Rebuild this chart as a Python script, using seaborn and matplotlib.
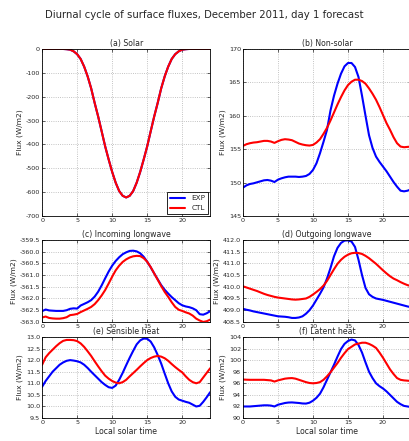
import matplotlib
matplotlib.use("Agg")
import matplotlib.pyplot as plt
import seaborn as sns
import numpy as np
import pandas as pd

# --- data (half-hourly, local solar time) ---
hours = list(np.arange(0, 24.5, 0.5))

solar_exp = [0, 0, 0, 0, 0, 0, 0, -1, -3, -10,
             -22, -42, -74, -115, -165, -226, -283, -345, -408, -463,
             -515, -560, -595, -615, -622, -615, -595, -560, -515, -463,
             -408, -345, -283, -226, -165, -115, -74, -42, -22, -10,
             -3, -1, 0, 0, 0, 0, 0, 0, 0]
solar_ctl = list(solar_exp)

nonsolar_exp = [149.25, 149.6, 149.8, 149.9, 150.05, 150.2, 150.35, 150.4, 150.3, 150.1,
                150.45, 150.65, 150.8, 150.9, 150.9, 150.9, 150.85, 150.9, 151.0, 151.3,
                151.9, 152.9, 154.4, 156.1, 157.9, 160.8, 163.0, 164.8, 166.3, 167.4,
                167.9, 167.9, 167.3, 165.8, 163.0, 160.0, 157.1, 155.2, 153.9, 153.1,
                152.4, 151.7, 150.9, 150.1, 149.4, 148.8, 148.7, 148.8, 149.0]
nonsolar_ctl = [155.5, 155.75, 155.9, 156.0, 156.05, 156.15, 156.25, 156.25, 156.15, 155.95,
                156.2, 156.4, 156.5, 156.45, 156.35, 156.1, 155.85, 155.7, 155.6, 155.55,
                155.65, 156.0, 156.5, 157.3, 158.2, 159.3, 160.5, 161.7, 162.8, 163.8,
                164.6, 165.1, 165.4, 165.4, 165.2, 164.8, 164.1, 163.3, 162.4, 161.3,
                160.1, 158.9, 157.9, 156.8, 155.9, 155.4, 155.3, 155.35, 155.4]

lwin_exp = [-362.54, -362.47, -362.51, -362.52, -362.53, -362.53, -362.53, -362.5, -362.44, -362.42,
            -362.43, -362.3, -362.23, -362.16, -362.07, -361.92, -361.71, -361.44, -361.14, -360.85,
            -360.6, -360.4, -360.24, -360.11, -360.03, -359.97, -359.96, -359.99, -360.07, -360.22,
            -360.43, -360.67, -360.93, -361.18, -361.43, -361.63, -361.79, -361.94, -362.07, -362.2,
            -362.29, -362.34, -362.37, -362.42, -362.5, -362.67, -362.69, -362.63, -362.54]
lwin_ctl = [-362.81, -362.77, -362.83, -362.85, -362.86, -362.86, -362.84, -362.8, -362.71, -362.69,
            -362.66, -362.58, -362.51, -362.44, -362.36, -362.24, -362.07, -361.87, -361.64, -361.36,
            -361.07, -360.8, -360.6, -360.44, -360.33, -360.25, -360.2, -360.18, -360.19, -360.28,
            -360.43, -360.66, -360.93, -361.2, -361.47, -361.72, -361.93, -362.16, -362.36, -362.48,
            -362.53, -362.59, -362.64, -362.73, -362.86, -362.94, -363.0, -362.97, -362.9]

lwout_exp = [409.06, 409.02, 408.99, 408.95, 408.92, 408.89, 408.86, 408.83, 408.8, 408.77,
             408.74, 408.73, 408.72, 408.7, 408.67, 408.67, 408.69, 408.74, 408.85, 409.0,
             409.2, 409.45, 409.7, 409.97, 410.35, 410.8, 411.3, 411.66, 411.87, 411.97,
             411.98, 411.93, 411.7, 411.15, 410.5, 409.95, 409.68, 409.57, 409.5, 409.47,
             409.44, 409.4, 409.36, 409.32, 409.28, 409.24, 409.2, 409.16, 409.13]
lwout_ctl = [410.02, 409.97, 409.92, 409.87, 409.82, 409.76, 409.7, 409.65, 409.61, 409.57,
             409.54, 409.52, 409.5, 409.48, 409.46, 409.45, 409.46, 409.48, 409.5, 409.57,
             409.67, 409.78, 409.9, 410.05, 410.25, 410.5, 410.75, 410.98, 411.15, 411.28,
             411.37, 411.43, 411.45, 411.44, 411.4, 411.32, 411.22, 411.1, 410.98, 410.84,
             410.7, 410.57, 410.45, 410.35, 410.28, 410.2, 410.13, 410.07, 410.03]

sens_exp = [10.85, 11.1, 11.3, 11.5, 11.65, 11.8, 11.9, 11.97, 12.0, 11.98,
            11.95, 11.9, 11.8, 11.66, 11.5, 11.35, 11.2, 11.05, 10.93, 10.83,
            10.8, 10.9, 11.15, 11.45, 11.78, 12.1, 12.4, 12.68, 12.85, 12.93,
            12.92, 12.8, 12.55, 12.22, 11.85, 11.42, 11.0, 10.65, 10.42, 10.3,
            10.25, 10.2, 10.16, 10.08, 10.0, 10.03, 10.2, 10.4, 10.62]
sens_ctl = [11.8, 12.12, 12.3, 12.45, 12.6, 12.73, 12.83, 12.87, 12.87, 12.86,
            12.82, 12.72, 12.57, 12.38, 12.18, 11.95, 11.73, 11.52, 11.33, 11.2,
            11.1, 11.03, 11.0, 11.05, 11.15, 11.3, 11.44, 11.58, 11.73, 11.87,
            12.0, 12.09, 12.15, 12.18, 12.15, 12.08, 11.97, 11.83, 11.7, 11.58,
            11.47, 11.3, 11.15, 11.05, 11.0, 11.05, 11.25, 11.45, 11.65]

lat_exp = [92.0, 92.0, 92.0, 92.05, 92.1, 92.15, 92.2, 92.2, 92.15, 92.0,
           92.3, 92.45, 92.6, 92.68, 92.7, 92.65, 92.6, 92.52, 92.5, 92.65,
           93.0, 93.5, 94.2, 95.3, 96.6, 97.9, 99.2, 100.6, 101.9, 102.8,
           103.3, 103.55, 103.4, 102.6, 101.3, 99.6, 98.0, 96.9, 96.0, 95.5,
           95.1, 94.6, 94.0, 93.4, 92.8, 92.4, 92.1, 92.0, 91.9]
lat_ctl = [96.65, 96.62, 96.6, 96.6, 96.6, 96.6, 96.6, 96.55, 96.5, 96.3,
           96.5, 96.65, 96.8, 96.87, 96.9, 96.8, 96.6, 96.4, 96.2, 96.05,
           96.0, 96.05, 96.2, 96.6, 97.2, 97.9, 98.7, 99.5, 100.4, 101.2,
           101.9, 102.3, 102.7, 102.85, 103.0, 103.0, 102.8, 102.5, 102.1, 101.3,
           100.4, 99.4, 98.4, 97.6, 96.9, 96.6, 96.5, 96.45, 96.4]

titles = ["(a) Solar", "(b) Non-solar", "(c) Incoming longwave",
          "(d) Outgoing longwave", "(e) Sensible heat", "(f) Latent heat"]
series = [(solar_exp, solar_ctl), (nonsolar_exp, nonsolar_ctl), (lwin_exp, lwin_ctl),
          (lwout_exp, lwout_ctl), (sens_exp, sens_ctl), (lat_exp, lat_ctl)]
ylims = [(-700, 0), (145, 170), (-363, -359.5), (408.5, 412), (9.5, 13), (90, 104)]
ysteps = [100, 5, 0.5, 0.5, 0.5, 2]
yfmt = ["%d", "%d", "%.1f", "%.1f", "%.1f", "%d"]

# --- style ---
sns.set_style("ticks")
plt.rcParams["font.family"] = ["DejaVu Sans"]
plt.rcParams["xtick.direction"] = "in"
plt.rcParams["ytick.direction"] = "in"
plt.rcParams["xtick.top"] = True
plt.rcParams["ytick.right"] = True

fig = plt.figure(figsize=(4.09, 4.41), dpi=100)
fig.suptitle("Diurnal cycle of surface fluxes, December 2011, day 1 forecast",
             fontsize=7.3, y=0.977)

# axes rectangles (fractions of figure)
rects = [
    [0.103, 0.510, 0.411, 0.379],
    [0.594, 0.510, 0.411, 0.379],
    [0.103, 0.270, 0.411, 0.186],
    [0.594, 0.270, 0.411, 0.186],
    [0.103, 0.052, 0.411, 0.184],
    [0.594, 0.052, 0.411, 0.184],
]

palette = {"EXP": "#0000ff", "CTL": "#ff0000"}

for i, (rect, title, (exp, ctl)) in enumerate(zip(rects, titles, series)):
    ax = fig.add_axes(rect)
    df = pd.DataFrame({
        "hour": hours + hours,
        "flux": exp + ctl,
        "run": ["EXP"] * len(hours) + ["CTL"] * len(hours),
    })
    sns.lineplot(data=df, x="hour", y="flux", hue="run", hue_order=["EXP", "CTL"],
                 palette=palette, linewidth=1.5, ax=ax, legend=(i == 0))
    ax.set_xlim(0, 24)
    ax.set_ylim(*ylims[i])
    ax.set_xticks([0, 5, 10, 15, 20])
    ax.set_yticks(np.arange(ylims[i][0], ylims[i][1] + ysteps[i] / 2, ysteps[i]))
    ax.yaxis.set_major_formatter(matplotlib.ticker.FormatStrFormatter(yfmt[i]))
    ax.tick_params(labelsize=4.6, length=2.5, width=0.5, pad=1.5)
    ax.grid(True, linestyle=":", color="#b0b0b0", linewidth=0.6)
    for sp in ax.spines.values():
        sp.set_linewidth(0.6)
        sp.set_color("black")
    ax.set_title(title, fontsize=5.6, pad=2)
    ax.set_ylabel("Flux (W/m2)", fontsize=5.4, labelpad=2)
    if i >= 4:
        ax.set_xlabel("Local solar time", fontsize=5.6, labelpad=1.5)
    else:
        ax.set_xlabel("")
    if i == 0:
        ax.legend(loc="lower right", fontsize=5.2, fancybox=False, edgecolor="black",
                  framealpha=1, handlelength=2.0, borderpad=0.4, labelspacing=0.5,
                  borderaxespad=0.3, handletextpad=0.9)
        ax.get_legend().get_frame().set_linewidth(0.6)

fig.savefig("out.png", dpi=100)
